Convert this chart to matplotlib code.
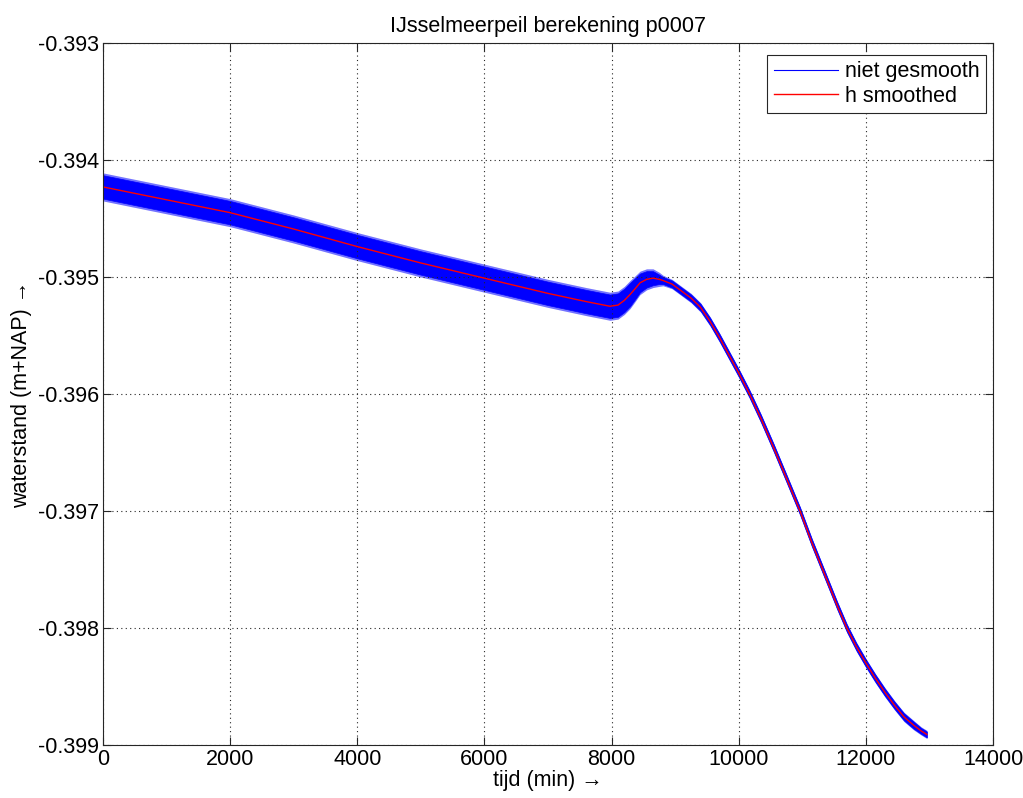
import matplotlib
matplotlib.use('Agg')
import matplotlib.pyplot as plt

# tijd (min) and smoothed waterstand
tijd = [0, 1000, 2000, 3000, 4000, 5000, 6000, 7000, 7600, 7975, 8100, 8200,
        8290, 8370, 8447, 8550, 8652, 8750, 8809, 8950, 9100, 9250, 9400,
        9550, 9700, 9850, 10000, 10170, 10350, 10550, 10750, 10964, 11150,
        11350, 11550, 11700, 11850, 12000, 12150, 12300, 12450, 12600, 12750,
        12870, 12960]
h_smoothed = [-0.39423, -0.39434, -0.39445, -0.39459, -0.39474, -0.39488,
              -0.39501, -0.39514, -0.39521, -0.39525, -0.39524, -0.39520,
              -0.39515, -0.39510, -0.39505, -0.39502, -0.39501, -0.39502,
              -0.39503, -0.39506, -0.39512, -0.39518, -0.39526, -0.39538,
              -0.39552, -0.39567, -0.39582, -0.39600, -0.39621, -0.39646,
              -0.39672, -0.39700, -0.39727, -0.39754, -0.39781, -0.39800,
              -0.39816, -0.39830, -0.39843, -0.39855, -0.39866, -0.39876,
              -0.39883, -0.39888, -0.39891]
# half width of the oscillating (niet gesmooth) band: spike tips and dense core
spike_amp = [0.00012] * 13 + [0.00011, 0.0001, 0.00009, 0.00008, 0.00006,
                              0.000045] + [0.00004] * 24 + [0.000035, 0.000035]
core_amp = [0.0001] * 13 + [0.00009, 0.00008, 0.00007, 0.00006, 0.00004,
                            0.00003] + [0.00003] * 24 + [0.000025, 0.000025]

plt.rcParams['font.family'] = ['Liberation Sans', 'DejaVu Sans']
plt.rcParams['font.size'] = 15.5

fig = plt.figure(figsize=(10.23, 7.98), dpi=100)
ax = fig.add_axes([0.1007, 0.0664, 0.8700, 0.8797])

spike_lo = [h - a for h, a in zip(h_smoothed, spike_amp)]
spike_hi = [h + a for h, a in zip(h_smoothed, spike_amp)]
core_lo = [h - a for h, a in zip(h_smoothed, core_amp)]
core_hi = [h + a for h, a in zip(h_smoothed, core_amp)]
ax.fill_between(tijd, spike_lo, spike_hi, color='#0000ff', alpha=0.55, lw=0)
ax.fill_between(tijd, core_lo, core_hi, color='#0000ff', lw=0.5)
ax.plot([], [], color='#0000ff', lw=0.8, label='niet gesmooth')
ax.plot(tijd, h_smoothed, color='#ff0000', lw=1.0, label='h smoothed')

ax.set_xlim(0, 14000)
ax.set_ylim(-0.399, -0.393)
ax.set_xticks(range(0, 14001, 2000))
ax.set_yticks([-0.399, -0.398, -0.397, -0.396, -0.395, -0.394, -0.393])
ax.set_yticklabels(['-0.399', '-0.398', '-0.397', '-0.396', '-0.395', '-0.394', '-0.393'])

ax.grid(True, color='#262626', linestyle=(0, (1, 3)), linewidth=0.8)
ax.tick_params(direction='in', top=True, right=True, length=6, width=0.8,
               color='#262626', labelsize=15.5, pad=3)
for s in ax.spines.values():
    s.set_color('#262626')
    s.set_linewidth(0.8)

ax.set_title('IJsselmeerpeil berekening p0007', fontsize=15.5, pad=8)
ax.set_xlabel('tijd (min) \u2192', fontsize=15.5, labelpad=0)
ax.set_ylabel('waterstand (m+NAP) \u2192', fontsize=15.5, labelpad=4)

leg = ax.legend(loc='upper right', bbox_to_anchor=(0.992, 0.983),
                fontsize=15.5, fancybox=False, framealpha=1,
                edgecolor='#262626', borderaxespad=0, handlelength=3.0,
                handletextpad=0.3, borderpad=0.3, labelspacing=0.15)
leg.get_frame().set_linewidth(0.8)

fig.savefig('out.png', dpi=100)
